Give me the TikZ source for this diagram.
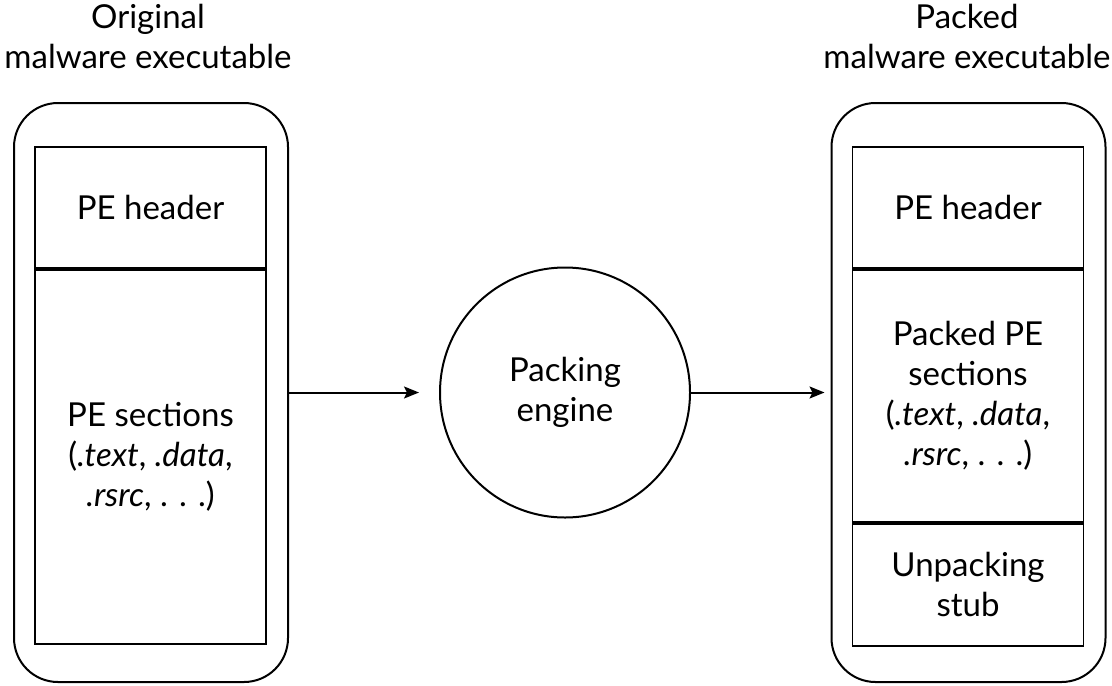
\documentclass[tikz,border=0pt]{standalone}
\usepackage{fontspec}
\setmainfont{Lato}
\usetikzlibrary{positioning,arrows.meta}

\begin{document}
\begin{tikzpicture}[
			x=0.5pt, y=-0.5pt,
			every node/.style = {font=\fontsize{16.5}{20}\selectfont, align=center},
			shell/.style = {draw, line width=1pt, rounded corners=22pt, minimum width=137pt, minimum height=289.5pt},
			part/.style = {draw, line width=0.9pt, minimum width=115.5pt, inner sep=0pt},
			flow/.style = {-{Stealth[length=7.5pt, width=6pt, inset=1.5pt]}, line width=1pt},
		]
		\path[use as bounding box] (0,0) rectangle (1112,685);
		% original executable
		\node[shell] (lout) at (151,392.5) {};
		\node[part, minimum height=60.5pt] (lhead) at (150.5,207.5) {PE header};
		\node[part, minimum height=187pt, below=0pt of lhead] (lsec) {PE sections\\(\textit{.text}, \textit{.data},\\\textit{.rsrc}, . . .)};
		\node (ltitle) at (148,36) {Original\\malware executable};
		% packing engine
		\node[draw, circle, line width=1pt, minimum size=125pt] (eng) at (565,392.5) {Packing\\engine};
		% packed executable
		\node[shell] (rout) at (968.5,392.5) {};
		\node[part, minimum height=60.5pt] (rhead) at (968,207.5) {PE header};
		\node[part, minimum height=126pt, below=0pt of rhead] (rsec) {Packed PE\\sections\\(\textit{.text}, \textit{.data},\\\textit{.rsrc}, . . .)};
		\node[part, minimum height=61pt, below=0pt of rsec] (rstub) {Unpacking\\stub};
		\node (rtitle) at (967,36) {Packed\\malware executable};
		% arrows
		\draw[flow, shorten >=10pt] (lout.east) -- (eng.west);
		\draw[flow, shorten >=3pt] (eng.east) -- (rout.west);
\end{tikzpicture}
\end{document}
